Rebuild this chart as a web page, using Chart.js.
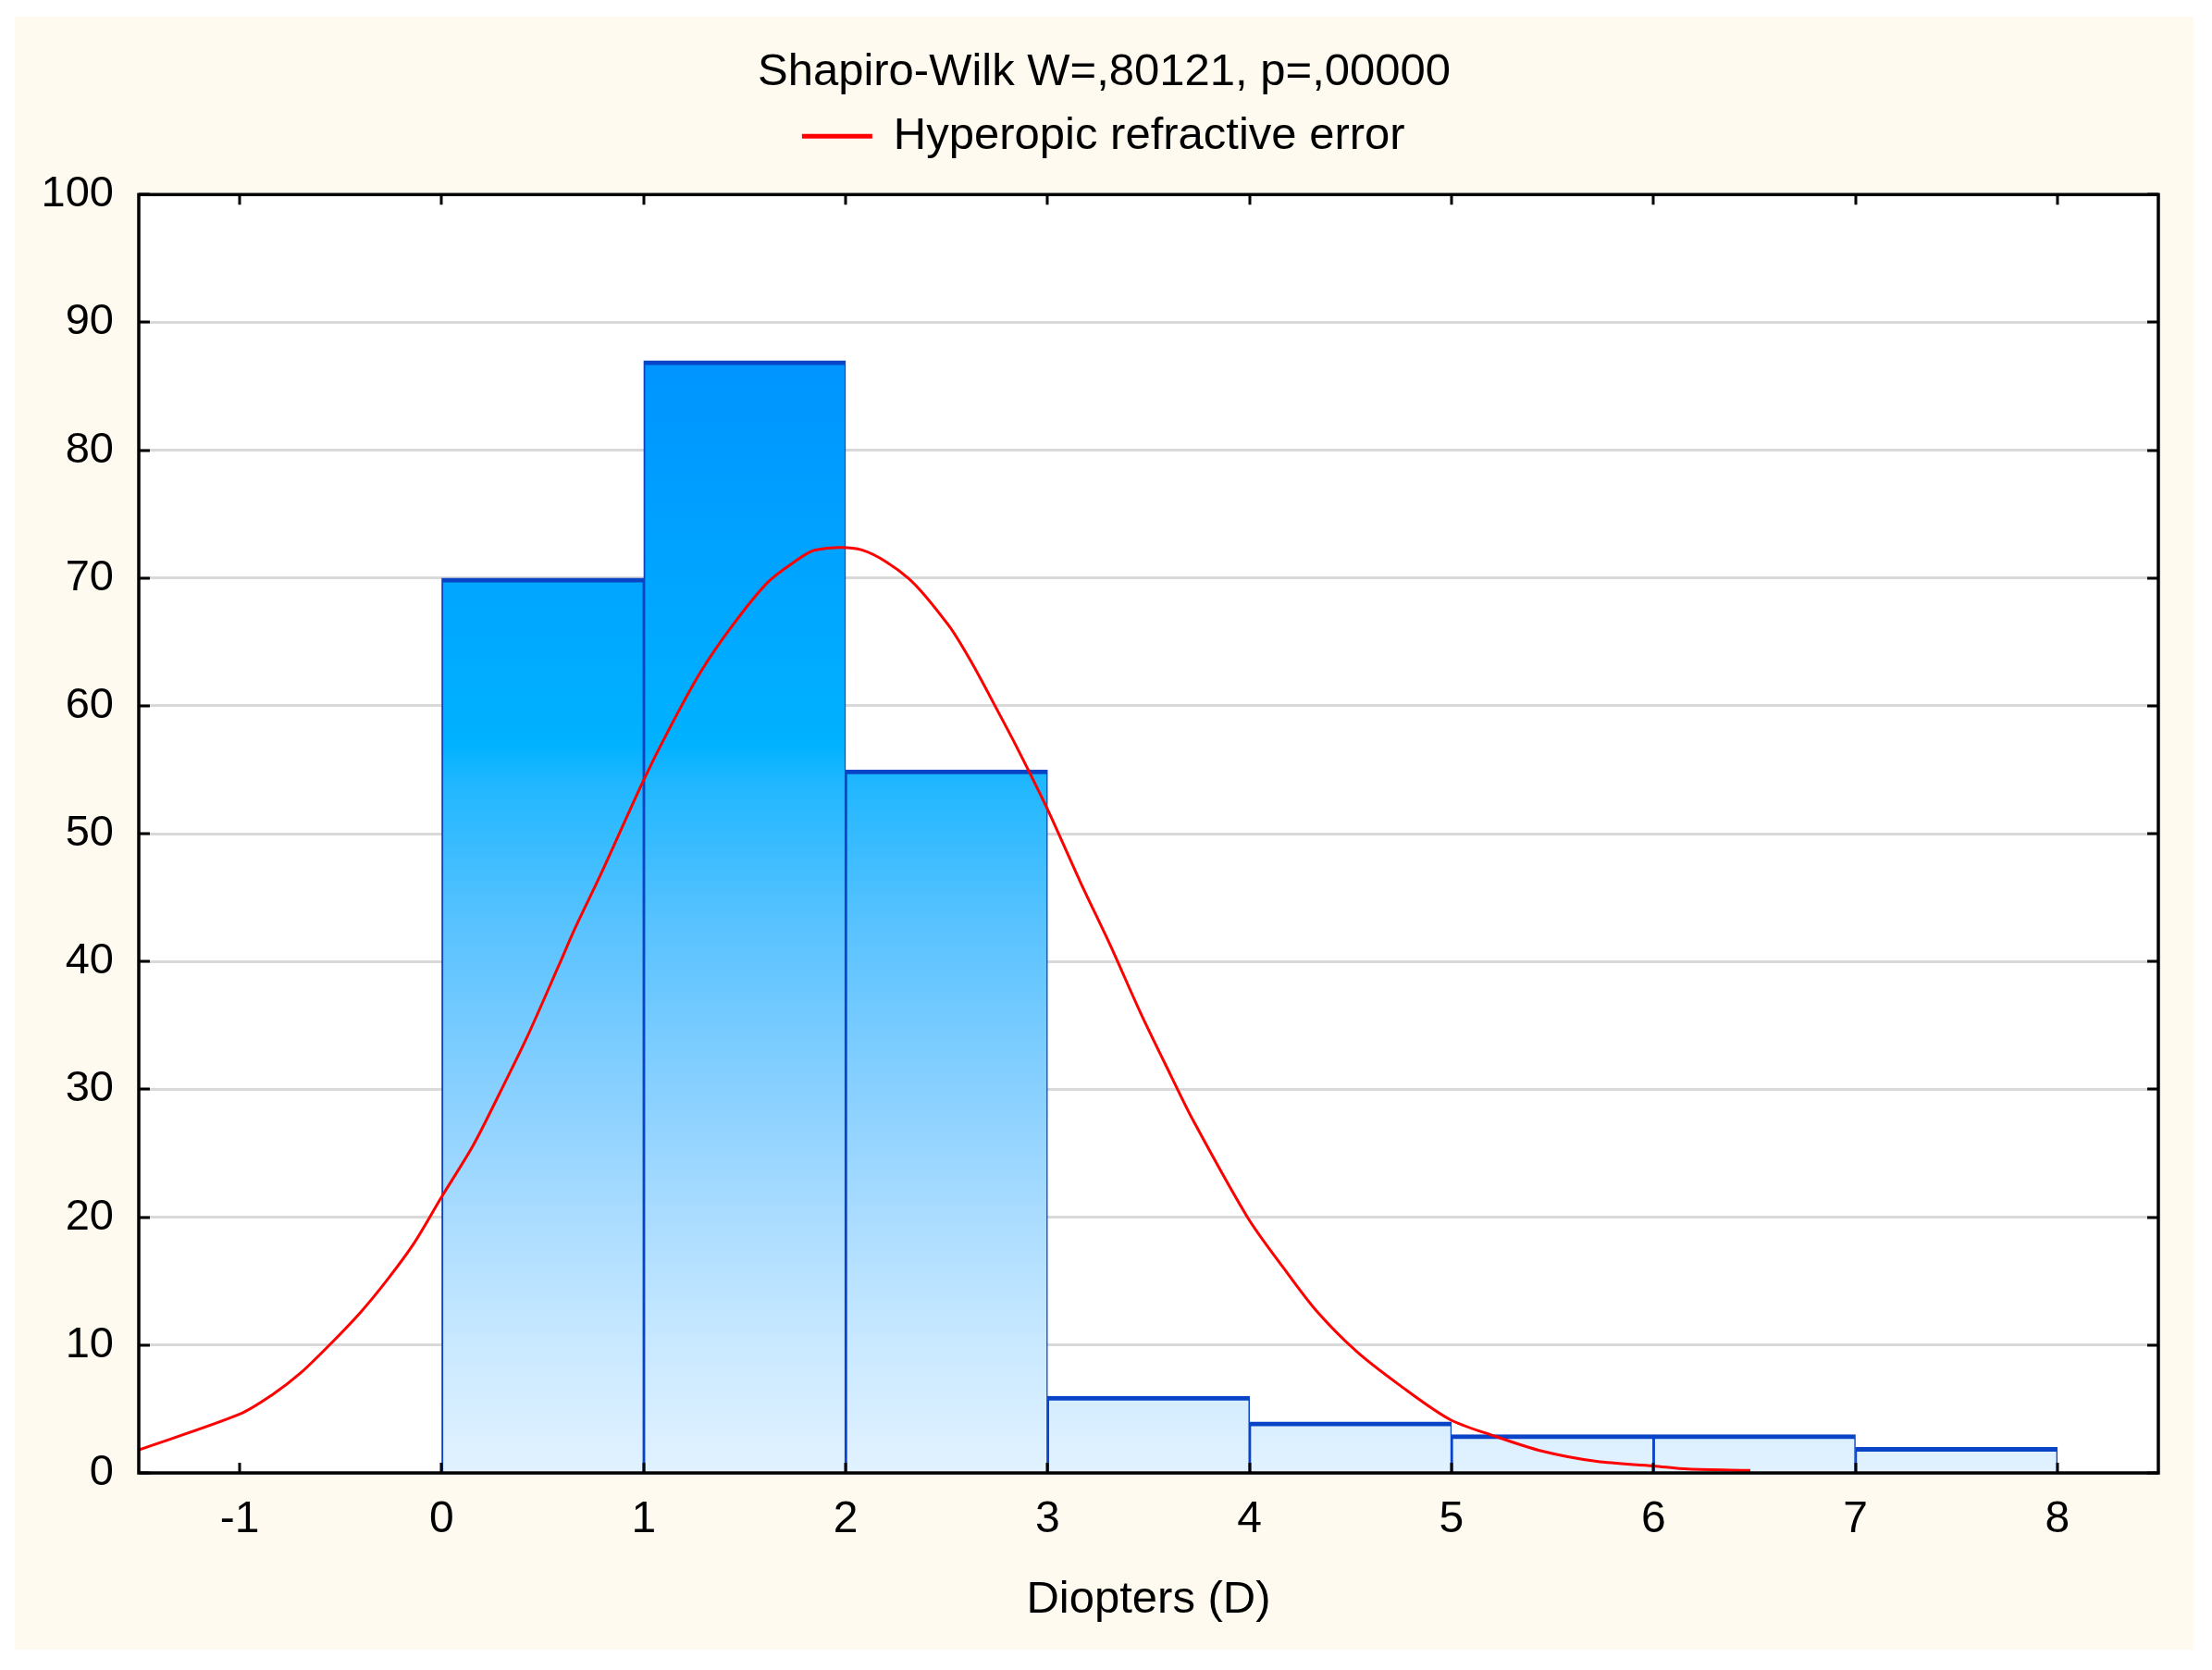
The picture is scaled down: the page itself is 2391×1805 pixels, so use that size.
<!DOCTYPE html>
<html>
<head>
<meta charset="utf-8">
<title>Hyperopic refractive error</title>
<script src="https://cdn.jsdelivr.net/npm/chart.js@4.4.1/dist/chart.umd.min.js"></script>
<style>
  html, body { margin: 0; padding: 0; background: #ffffff; }
  #frame { position: absolute; left: 16px; top: 18px; width: 2355px; height: 1765px; background: #fffaf0; }
</style>
</head>
<body>
<div id="frame"><canvas id="histChart" width="2355" height="1765"></canvas></div>
<script>
// histogram bins (lower edge, width 1 D) and counts
const binStarts = [0, 1, 2, 3, 4, 5, 6, 7];
const binCounts = [70, 87, 55, 6, 4, 3, 3, 2];

// fitted normal curve
const curveX = [-1.5, -1.0, -0.84, -0.7, -0.55, -0.4, -0.27, -0.14, 0, 0.155, 0.29, 0.42, 0.58, 0.66, 0.79,
  1.0, 1.12, 1.28, 1.44, 1.61, 1.74, 1.85, 2.08, 2.31, 2.51, 2.62, 2.75, 2.85, 3.0, 3.16, 3.31, 3.46, 3.61, 3.72,
  3.99, 4.17, 4.33, 4.53, 4.74, 4.99, 5.21, 5.45, 5.72, 6.0, 6.17, 6.48];
const curveY = [1.8, 4.6, 6.1, 7.8, 10.1, 12.6, 15.1, 17.9, 21.6, 25.6, 29.8, 34.0, 39.7, 42.6, 46.9,
  54.2, 58.0, 62.6, 66.3, 69.6, 71.2, 72.2, 72.2, 70.0, 66.3, 63.5, 59.7, 56.7, 51.9, 46.3, 41.3, 36.0, 31.1, 27.6,
  20.0, 16.0, 12.7, 9.5, 6.9, 4.2, 2.9, 1.7, 0.9, 0.55, 0.3, 0.2];

const xTickValues = [-1, 0, 1, 2, 3, 4, 5, 6, 7, 8];
const yTickValues = [0, 10, 20, 30, 40, 50, 60, 70, 80, 90, 100];

const titleText = 'Shapiro-Wilk W=,80121, p=,00000';
const seriesName = 'Hyperopic refractive error';
const xTitle = 'Diopters (D)';

Chart.defaults.font.family = "'Liberation Sans', Arial, sans-serif";
Chart.defaults.font.size = 48;
Chart.defaults.color = '#000';

// vertical blue fade used by all bars (by y value)
function barFill(context) {
  const chart = context.chart;
  const y = chart.scales.y;
  if (!chart.chartArea || !y) return '#7cc8ff';
  const top = y.getPixelForValue(100);
  const bottom = y.getPixelForValue(0);
  const g = chart.ctx.createLinearGradient(0, top, 0, bottom);
  const stops = [[100, '#0084ff'], [87, '#0094ff'], [57, '#00b2ff'], [54, '#20b7ff'], [43, '#58c2ff'],
    [30, '#88d0ff'], [20, '#aadcff'], [10, '#c9e9ff'], [0, '#e2f2ff']];
  stops.forEach(s => g.addColorStop((100 - s[0]) / 100, s[1]));
  return g;
}

const plotFrame = {
  id: 'plotFrame',
  beforeDraw(chart) {
    const { ctx, chartArea: a } = chart;
    ctx.save();
    ctx.fillStyle = '#ffffff';
    ctx.fillRect(a.left, a.top, a.width, a.height);
    ctx.restore();
  },
  afterDraw(chart) {
    const { ctx, chartArea: a, scales } = chart;
    ctx.save();
    ctx.strokeStyle = '#000';
    ctx.lineWidth = 3;
    ctx.beginPath();
    scales.x.ticks.forEach(t => {
      const px = Math.round(scales.x.getPixelForValue(t.value));
      ctx.moveTo(px, a.top); ctx.lineTo(px, a.top + 11);
      ctx.moveTo(px, a.bottom); ctx.lineTo(px, a.bottom - 11);
    });
    scales.y.ticks.forEach(t => {
      const py = Math.round(scales.y.getPixelForValue(t.value));
      ctx.moveTo(a.left, py); ctx.lineTo(a.left + 12, py);
      ctx.moveTo(a.right, py); ctx.lineTo(a.right - 12, py);
    });
    ctx.stroke();
    ctx.lineWidth = 3.5;
    ctx.strokeRect(a.left, a.top, a.width, a.height);
    ctx.restore();
  }
};

// empty spacer axis (keeps title and legend centred on the whole frame)
const spacer = (side, size) => ({
  position: side,
  display: true,
  ticks: { display: false },
  grid: { display: false, drawTicks: false },
  border: { display: false },
  afterFit: s => { if (side === 'top') s.height = size; else s.width = size; }
});

new Chart(document.getElementById('histChart'), {
  type: 'bar',
  data: {
    datasets: [
      {
        type: 'bar',
        label: 'Counts',
        data: binStarts.map((s, i) => ({ x: s + 0.5, y: binCounts[i] })),
        backgroundColor: barFill,
        borderColor: '#0a44c6',
        borderWidth: { top: 5, left: 2, right: 1.5, bottom: 0 },
        borderSkipped: false,
        barPercentage: 1,
        categoryPercentage: 1,
        order: 2
      },
      {
        type: 'line',
        label: seriesName,
        data: curveX.map((v, i) => ({ x: v, y: curveY[i] })),
        borderColor: '#ff0000',
        backgroundColor: '#ff0000',
        borderWidth: 3,
        pointRadius: 0,
        tension: 0.3,
        fill: false,
        order: 1
      }
    ]
  },
  options: {
    responsive: false,
    devicePixelRatio: 1,
    animation: false,
    layout: { padding: 0 },
    plugins: {
      title: {
        display: true,
        text: titleText,
        font: { size: 49, weight: 'normal' },
        color: '#000',
        padding: { top: 31, bottom: 0 }
      },
      legend: {
        display: true,
        labels: {
          boxWidth: 73,
          boxHeight: 2,
          padding: 15,
          color: '#000',
          font: { size: 49 },
          filter: item => item.datasetIndex === 1
        }
      },
      tooltip: { enabled: false }
    },
    scales: {
      x: {
        type: 'linear',
        min: -1.5,
        max: 8.5,
        offset: false,
        afterBuildTicks: s => { s.ticks = xTickValues.map(v => ({ value: v })); },
        afterFit: s => { s.height = 191; },
        ticks: { padding: 22, color: '#000', font: { size: 48 }, maxRotation: 0, autoSkip: false },
        grid: { display: false, drawTicks: false },
        border: { display: false },
        title: { display: true, text: xTitle, color: '#000', font: { size: 49 }, padding: { top: 29.6, bottom: 24.2 } }
      },
      xTop: Object.assign({ type: 'linear', min: -1.5, max: 8.5 }, spacer('top', 28.5)),
      y: {
        min: 0,
        max: 100,
        afterBuildTicks: s => { s.ticks = yTickValues.map(v => ({ value: v })); },
        afterFit: s => { s.width = 134; },
        ticks: { padding: 27, color: '#000', font: { size: 47 } },
        grid: { color: '#d9d9d9', lineWidth: 3, drawTicks: false },
        border: { display: false }
      },
      yRight: Object.assign({ type: 'linear', min: 0, max: 100 }, spacer('right', 38))
    }
  },
  plugins: [plotFrame]
});
</script>
</body>
</html>
